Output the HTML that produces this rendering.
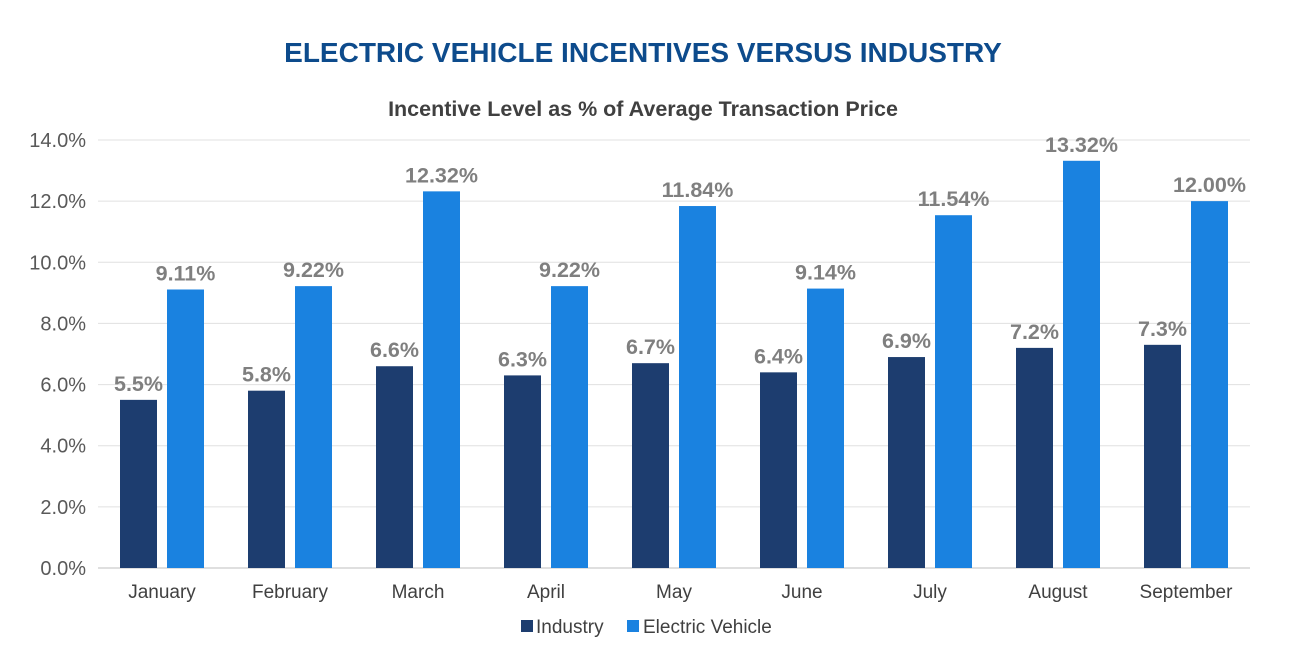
<!DOCTYPE html>
<html><head><meta charset="utf-8"><style>
body{margin:0;background:#fff;width:1292px;height:667px;overflow:hidden;font-family:"Liberation Sans",Arial,sans-serif}
</style></head><body>
<svg id="chart" width="1292" height="667">
<text x="643" y="62" text-anchor="middle" font-size="28" font-weight="bold" fill="#0d4b8c">ELECTRIC VEHICLE INCENTIVES VERSUS INDUSTRY</text>
<text x="643" y="116" text-anchor="middle" font-size="21.5" font-weight="bold" fill="#404040">Incentive Level as % of Average Transaction Price</text>
<g id="grid"></g><g id="bars"></g><g id="labels"></g>
<g>
<rect x="521" y="620" width="12" height="12" fill="#1d3d6f"/>
<text x="536" y="633" font-size="19" fill="#404040">Industry</text>
<rect x="627" y="620" width="12" height="12" fill="#1a82e0"/>
<text x="643" y="633" font-size="19" fill="#404040">Electric Vehicle</text>
</g>
</svg>
<script>
const categories=["January","February","March","April","May","June","July","August","September"];
const industry=[5.5,5.8,6.6,6.3,6.7,6.4,6.9,7.2,7.3];
const industryLabels=["5.5%","5.8%","6.6%","6.3%","6.7%","6.4%","6.9%","7.2%","7.3%"];
const ev=[9.11,9.22,12.32,9.22,11.84,9.14,11.54,13.32,12.00];
const evLabels=["9.11%","9.22%","12.32%","9.22%","11.84%","9.14%","11.54%","13.32%","12.00%"];
const ticks=[0,2,4,6,8,10,12,14];
const NS="http://www.w3.org/2000/svg";
const x0=98,x1=1250,y0=568,y1=140;
const y=v=>y0-(v/14)*(y0-y1);
const bw=(x1-x0)/categories.length;
const cx=i=>x0+bw*(i+0.5);
function mk(tag,attrs,parent){const e=document.createElementNS(NS,tag);for(const k in attrs)e.setAttribute(k,attrs[k]);document.getElementById(parent).appendChild(e);return e;}
ticks.forEach(t=>{
 const l=mk("line",{x1:x0,x2:x1,y1:y(t),y2:y(t),stroke:t===0?"#bfbfbf":"#e0e0e0","stroke-width":1},"grid");
 
 
 const tx=mk("text",{x:86,y:y(t)+7,"text-anchor":"end","font-size":20,fill:"#595959"},"grid");
 tx.textContent=t.toFixed(1)+"%";
 
 
});
categories.forEach((c,i)=>{
 const w=37;
 const bi=mk("rect",{x:cx(i)-42,y:y(industry[i]),width:w,height:y0-y(industry[i]),fill:"#1d3d6f"},"bars");
 
 
 const be=mk("rect",{x:cx(i)+5,y:y(ev[i]),width:w,height:y0-y(ev[i]),fill:"#1a82e0"},"bars");
 
 
 const li=mk("text",{x:cx(i)-23.5,y:y(industry[i])-9,"text-anchor":"middle","font-size":21.5,"font-weight":"bold",fill:"#7f7f7f"},"labels");
 li.textContent=industryLabels[i];
 
 
 const le=mk("text",{x:cx(i)+23.5,y:y(ev[i])-9,"text-anchor":"middle","font-size":21.5,"font-weight":"bold",fill:"#7f7f7f"},"labels");
 le.textContent=evLabels[i];
 
 
 const cl=mk("text",{x:cx(i),y:598,"text-anchor":"middle","font-size":19,fill:"#404040"},"labels");
 cl.textContent=c;
 
 
});
</script>
</body></html>
